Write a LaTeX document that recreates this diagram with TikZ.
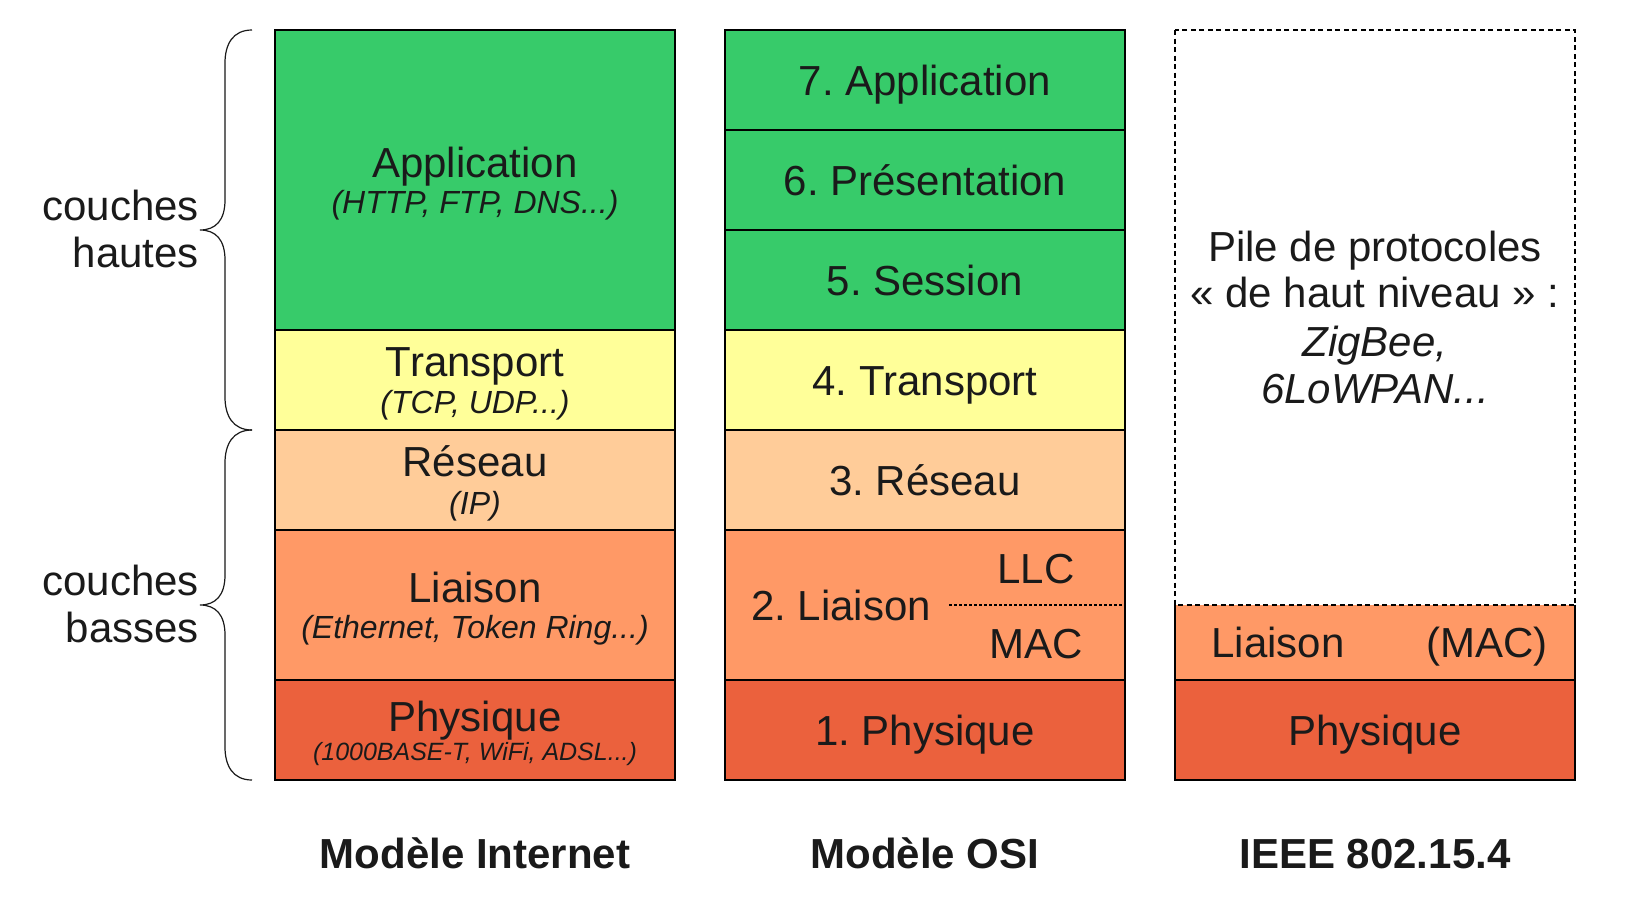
\documentclass[tikz,border=0pt]{standalone}
\usepackage{fontspec}
\setmainfont{Liberation Sans}
\frenchspacing
\definecolor{cApp}{HTML}{37CB6A}
\definecolor{cTra}{HTML}{FFFF99}
\definecolor{cRes}{HTML}{FFCC99}
\definecolor{cLia}{HTML}{FF9966}
\definecolor{cPhy}{HTML}{EB613D}
\definecolor{txt}{HTML}{1A1A1A}
\begin{document}
\begin{tikzpicture}[x=1pt,y=-1pt,
  layer/.style={draw=black,line width=1.4pt},
  lbl/.style={inner sep=0pt,anchor=base,text=txt,font=\fontsize{42}{47}\selectfont\frenchspacing},
  sublbl/.style={inner sep=0pt,anchor=base,text=txt,font=\fontsize{32}{36}\selectfont\itshape\frenchspacing},
  smalllbl/.style={inner sep=0pt,anchor=base,text=txt,font=\fontsize{25}{29}\selectfont\itshape\frenchspacing},
  title/.style={inner sep=0pt,anchor=base,text=txt,font=\fontsize{42}{47}\selectfont\bfseries\frenchspacing},
  side/.style={inner sep=0pt,anchor=base east,text=txt,font=\fontsize{42}{47}\selectfont},
  bracepath/.style={draw=txt,line width=1.2pt},
  dottedsep/.style={draw=black,line width=1.6pt,dash pattern=on 3pt off 2pt},
  dashedbox/.style={draw=black,line width=2pt,dash pattern=on 5pt off 3.5pt}
]
\path[fill=white] (0,0) rectangle (1650,900);
\useasboundingbox (0,0) rectangle (1650,900);

% ---------- Internet model ----------
\filldraw[layer,fill=cApp] (275,30) rectangle (675,330);
\filldraw[layer,fill=cTra] (275,330) rectangle (675,430);
\filldraw[layer,fill=cRes] (275,430) rectangle (675,530);
\filldraw[layer,fill=cLia] (275,530) rectangle (675,680);
\filldraw[layer,fill=cPhy] (275,680) rectangle (675,780);

\node[lbl] (iApp) at (475,177) {Application};
\node[sublbl] (iAppS) at (475,213) {(HTTP, FTP, DNS...)};
\node[lbl] (iTra) at (475,376) {Transport};
\node[sublbl] (iTraS) at (475,413) {(TCP, UDP...)};
\node[lbl] (iRes) at (475,476) {Réseau};
\node[sublbl] (iResS) at (475,514) {(IP)};
\node[lbl] (iLia) at (475,602) {Liaison};
\node[sublbl] (iLiaS) at (475,638) {(Ethernet, Token Ring...)};
\node[lbl] (iPhy) at (475,731) {Physique};
\node[smalllbl] (iPhyS) at (475,760) {(1000BASE-T, WiFi, ADSL...)};

% ---------- OSI model ----------
\filldraw[layer,fill=cApp] (725,30) rectangle (1125,130);
\filldraw[layer,fill=cApp] (725,130) rectangle (1125,230);
\filldraw[layer,fill=cApp] (725,230) rectangle (1125,330);
\filldraw[layer,fill=cTra] (725,330) rectangle (1125,430);
\filldraw[layer,fill=cRes] (725,430) rectangle (1125,530);
\filldraw[layer,fill=cLia] (725,530) rectangle (1125,680);
\filldraw[layer,fill=cPhy] (725,680) rectangle (1125,780);

\node[lbl] (o7) at (925,95) {7. Application};
\node[lbl] (o6) at (925,195) {6. Présentation};
\node[lbl] (o5) at (925,295) {5. Session};
\node[lbl] (o4) at (925,395) {4. Transport};
\node[lbl] (o3) at (925,495) {3. Réseau};
\node[lbl] (o2) at (841,620) {2. Liaison};
\node[lbl] (oLLC) at (1036,583) {LLC};
\node[lbl] (oMAC) at (1036,658) {MAC};
\node[lbl] (o1) at (925,745) {1. Physique};
\coordinate (sepA) at (949,605);
\coordinate (sepB) at (1124,605);
\draw[dottedsep] (sepA) -- (sepB);

% ---------- IEEE 802.15.4 ----------
\fill[cLia] (1175,605) rectangle (1575,680);
\filldraw[layer,fill=cPhy] (1175,680) rectangle (1575,780);
\draw[layer] (1175,605) -- (1175,680);
\draw[layer] (1575,605) -- (1575,680);
\draw[dashedbox] (1175,30) rectangle (1575,605);

\node[lbl] (pile1) at (1375,261) {Pile de protocoles};
\node[lbl] (pile2) at (1375,307) {« de haut niveau » :};
\node[lbl,font=\fontsize{42}{47}\selectfont\itshape] (pile3) at (1375,356) {ZigBee,};
\node[lbl,font=\fontsize{42}{47}\selectfont\itshape] (pile4) at (1375,403) {6LoWPAN...};
\node[lbl] (eLia) at (1278,657) {Liaison};
\node[lbl] (eMAC) at (1487,657) {(MAC)};
\node[lbl] (ePhy) at (1375,745) {Physique};

% ---------- titles ----------
\node[title] (tInt) at (475,868) {Modèle Internet};
\node[title] (tOSI) at (925,868) {Modèle OSI};
\node[title] (tIEEE) at (1375,868) {IEEE 802.15.4};

% ---------- braces ----------
\draw[bracepath] (252,30) .. controls (233,30) and (225,44) .. (225,63)
  -- (225,200) .. controls (225,220) and (216,230) .. (200,230)
  .. controls (216,230) and (225,240) .. (225,260)
  -- (225,397) .. controls (225,416) and (233,430) .. (252,430);
\draw[bracepath] (252,430) .. controls (233,430) and (225,444) .. (225,463)
  -- (225,575) .. controls (225,595) and (216,605) .. (200,605)
  .. controls (216,605) and (225,615) .. (225,635)
  -- (225,747) .. controls (225,766) and (233,780) .. (252,780);

\node[side] (hA) at (199,220) {couches};
\node[side] (hB) at (199,267) {hautes};
\node[side] (bA) at (199,595) {couches};
\node[side] (bB) at (199,642) {basses};
\end{tikzpicture}
\end{document}
